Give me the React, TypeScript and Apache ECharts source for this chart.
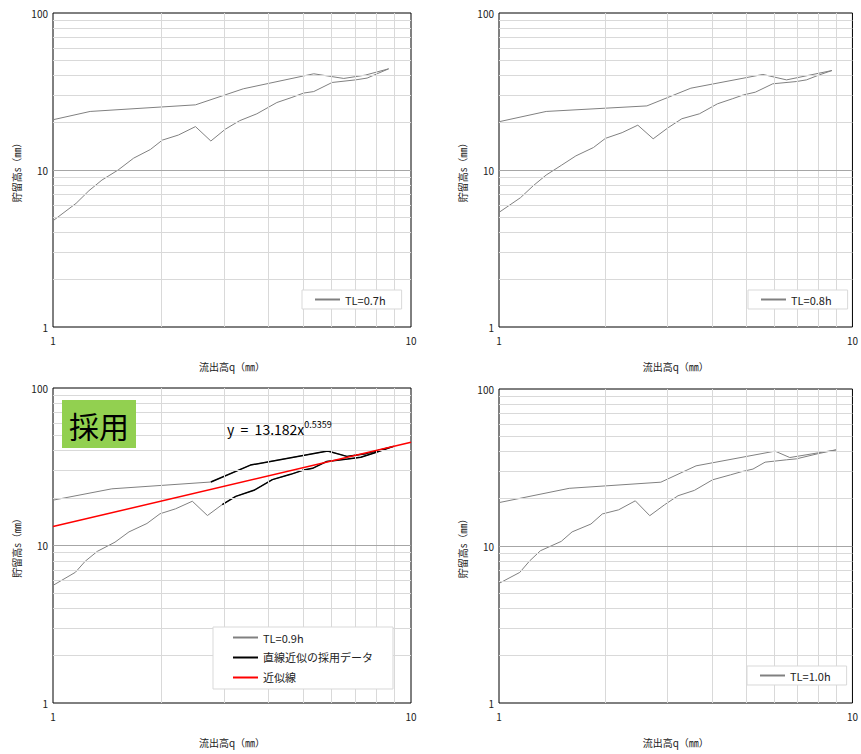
import { useEffect, useRef } from "react";
import * as echarts from "echarts";

// 流出高 q (mm) と貯留高 s (mm) のループ：増水期 → ピーク → 減水期
const q07 = [1.0, 1.16, 1.26, 1.37, 1.52, 1.68, 1.87, 2.02, 2.24, 2.5, 2.76, 3.03, 3.32, 3.71, 4.22, 4.65, 5.01, 5.35, 6.02, 7.0, 7.54, 8.04, 8.66, 7.45, 6.49, 5.35, 3.4, 2.5, 1.27, 1.0];
const s07 = [4.75, 6.13, 7.38, 8.63, 10.0, 11.9, 13.5, 15.5, 16.7, 18.9, 15.3, 18.2, 20.6, 22.8, 26.9, 29.0, 30.9, 31.6, 36.1, 37.5, 38.5, 41.0, 44.1, 40.2, 38.3, 41.0, 32.9, 26.0, 23.6, 20.9];

const q08 = [1.0, 1.15, 1.25, 1.36, 1.5, 1.65, 1.85, 2.0, 2.23, 2.47, 2.73, 3.01, 3.29, 3.69, 4.15, 4.57, 4.92, 5.31, 5.95, 6.94, 7.41, 8.07, 8.75, 6.51, 5.58, 3.49, 2.62, 1.36, 1.0];
const s08 = [5.37, 6.66, 7.94, 9.29, 10.7, 12.3, 13.9, 15.9, 17.3, 19.3, 15.8, 18.6, 21.2, 22.8, 26.4, 28.4, 30.1, 31.3, 35.4, 36.6, 37.5, 40.4, 43.0, 37.5, 40.6, 33.2, 25.6, 23.6, 20.3];

const q09 = [1.0, 1.155, 1.23, 1.33, 1.49, 1.63, 1.83, 1.99, 2.2, 2.45, 2.7, 2.97, 3.24, 3.64, 4.1, 4.61, 4.98, 5.31, 5.82, 6.65, 7.24, 7.89, 8.94, 7.48, 6.62, 5.85, 3.56, 2.76, 1.46, 1.0];
const s09 = [5.58, 6.76, 7.94, 9.18, 10.5, 12.2, 13.8, 15.9, 17.1, 19.1, 15.5, 18.2, 20.5, 22.4, 26.2, 28.3, 30.0, 30.9, 34.2, 35.4, 36.3, 38.7, 42.6, 38.3, 36.8, 39.8, 32.4, 25.3, 22.9, 19.4];

const q10 = [1.0, 1.145, 1.22, 1.31, 1.5, 1.61, 1.82, 1.96, 2.18, 2.43, 2.67, 2.94, 3.21, 3.57, 4.02, 4.52, 4.87, 5.23, 5.66, 6.51, 6.94, 7.98, 9.02, 6.65, 6.04, 3.61, 2.87, 1.58, 1.0];
const s10 = [5.78, 6.79, 8.02, 9.33, 10.7, 12.3, 13.8, 16.0, 17.0, 19.4, 15.6, 18.3, 20.9, 22.6, 26.4, 28.4, 29.8, 30.9, 34.2, 35.4, 35.9, 38.7, 41.0, 36.6, 40.2, 32.4, 25.5, 23.3, 18.9];

// TL=0.9h のうち直線近似に用いた区間（添字）
const ADOPT_FROM = 11;
const ADOPT_TO = 27;

// 近似式 y = 13.182 x^0.5359
const FIT_A = 13.182;
const FIT_B = 0.5359;
const fitQ = [1, 10];

// 対数目盛の補助線
const minorQ = [2, 3, 4, 5, 6, 7, 8, 9];
const minorS = [2, 3, 4, 5, 6, 7, 8, 9, 20, 30, 40, 50, 60, 70, 80, 90];

const FONT = "'Noto Sans CJK JP', 'Noto Sans', sans-serif";
const X_NAME = "流出高q（㎜）";
const Y_NAME = "貯留高s（㎜）";

const pairs = (qs: number[], ss: number[]) => qs.map((q, i) => [q, ss[i]]);

export default function App() {
  const ref = useRef<HTMLDivElement>(null);

  useEffect(() => {
    if (!ref.current) return;
    const chart = echarts.init(ref.current, null, { renderer: "svg" });

    const grids = [
      { left: 53, top: 13, width: 358, height: 314 },
      { left: 499, top: 13, width: 358, height: 314 },
      { left: 53, top: 388, width: 358, height: 315 },
      { left: 499, top: 389, width: 358, height: 314 },
    ].map((g) => ({ ...g, show: true, borderColor: "#000", borderWidth: 1, backgroundColor: "#fff" }));

    const xAxes = grids.map((_, i) => ({
      type: "log",
      logBase: 10,
      gridIndex: i,
      min: 1,
      max: 10,
      name: X_NAME,
      nameLocation: "middle",
      nameGap: 34,
      nameTextStyle: { fontFamily: FONT, fontSize: 10, color: "#222" },
      axisLine: { show: false },
      axisTick: { show: false },
      splitLine: { show: false },
      axisLabel: { fontFamily: FONT, fontSize: 10, color: "#222", margin: 8 },
    }));

    const yAxes = grids.map((_, i) => ({
      type: "log",
      logBase: 10,
      gridIndex: i,
      min: 1,
      max: 100,
      name: Y_NAME,
      nameLocation: "middle",
      nameGap: 32,
      nameTextStyle: { fontFamily: FONT, fontSize: 10, color: "#222" },
      axisLine: { show: false },
      axisTick: { show: false },
      splitLine: { show: false },
      axisLabel: { fontFamily: FONT, fontSize: 10, color: "#222", margin: 5 },
    }));

    const gridLines = (i: number) => ({
      type: "line",
      xAxisIndex: i,
      yAxisIndex: i,
      data: [[1, 1]],
      symbol: "none",
      lineStyle: { width: 0, opacity: 0 },
      silent: true,
      z: 1,
      markLine: {
        silent: true,
        symbol: ["none", "none"],
        label: { show: false },
        emphasis: { disabled: true },
        lineStyle: { color: "#d9d9d9", width: 1, type: "solid" },
        data: [
          ...minorQ.map((v) => ({ xAxis: v })),
          ...minorS.map((v) => ({ yAxis: v })),
          { yAxis: 10, lineStyle: { color: "#a6a6a6", width: 1, type: "solid" } },
        ],
      },
    });

    const loop = (i: number, name: string, data: number[][]) => ({
      type: "line",
      name,
      xAxisIndex: i,
      yAxisIndex: i,
      data,
      symbol: "none",
      z: 3,
      lineStyle: { color: "#808080", width: 1 },
      itemStyle: { color: "#808080" },
    });

    const adopted = pairs(q09, s09).slice(ADOPT_FROM, ADOPT_TO + 1);
    const fitLine = fitQ.map((q) => [q, FIT_A * Math.pow(q, FIT_B)]);

    const legendBase = {
      orient: "vertical",
      icon: "rect",
      itemWidth: 25,
      itemHeight: 2,
      itemGap: 7,
      z: 50,
      borderColor: "#d9d9d9",
      borderWidth: 1,
      backgroundColor: "#fff",
      textStyle: { fontFamily: FONT, fontSize: 11, color: "#222" },
      selectedMode: false,
    };

    chart.setOption({
      animation: false,
      grid: grids,
      xAxis: xAxes,
      yAxis: yAxes,
      legend: [
        { ...legendBase, left: 302, top: 290, padding: [4, 16, 4, 13], data: ["TL=0.7h"] },
        { ...legendBase, left: 748, top: 290, padding: [4, 16, 4, 13], data: ["TL=0.8h"] },
        {
          ...legendBase,
          left: 213,
          top: 627,
          padding: [5, 20, 6, 20],
          itemGap: 9,
          data: ["TL=0.9h", "直線近似の採用データ", "近似線"],
        },
        { ...legendBase, left: 747, top: 666, padding: [4, 16, 4, 13], data: ["TL=1.0h"] },
      ],
      series: [
        gridLines(0),
        gridLines(1),
        gridLines(2),
        gridLines(3),
        loop(0, "TL=0.7h", pairs(q07, s07)),
        loop(1, "TL=0.8h", pairs(q08, s08)),
        loop(2, "TL=0.9h", pairs(q09, s09)),
        {
          type: "line",
          name: "直線近似の採用データ",
          xAxisIndex: 2,
          yAxisIndex: 2,
          data: adopted,
          symbol: "none",
          z: 4,
          lineStyle: { color: "#000", width: 1.5 },
          itemStyle: { color: "#000" },
        },
        {
          type: "line",
          name: "近似線",
          xAxisIndex: 2,
          yAxisIndex: 2,
          data: fitLine,
          symbol: "none",
          z: 5,
          lineStyle: { color: "#ff0000", width: 1.5 },
          itemStyle: { color: "#ff0000" },
        },
        loop(3, "TL=1.0h", pairs(q10, s10)),
      ],
      graphic: [
        {
          type: "rect",
          shape: { x: 62, y: 400, width: 74, height: 48 },
          style: { fill: "#92d050" },
          z: 10,
        },
        {
          type: "text",
          x: 99,
          y: 425,
          z: 11,
          style: {
            text: "採用",
            fontFamily: FONT,
            fontSize: 30,
            fill: "#000",
            align: "center",
            verticalAlign: "middle",
          },
        },
        {
          type: "text",
          x: 227,
          y: 428,
          z: 11,
          style: {
            text: "{m|y  =  13.182x}{s|0.5359}",
            fontFamily: FONT,
            fill: "#000",
            verticalAlign: "middle",
            rich: {
              m: { fontFamily: FONT, fontSize: 14, fill: "#000", verticalAlign: "bottom", lineHeight: 16 },
              s: { fontFamily: FONT, fontSize: 9, fill: "#000", verticalAlign: "top", lineHeight: 16 },
            },
          },
        },
      ],
    });

    return () => chart.dispose();
  }, []);

  return (
    <div
      ref={ref}
      style={{ position: "absolute", left: 0, top: 0, width: 861, height: 754, background: "#fff" }}
    />
  );
}
